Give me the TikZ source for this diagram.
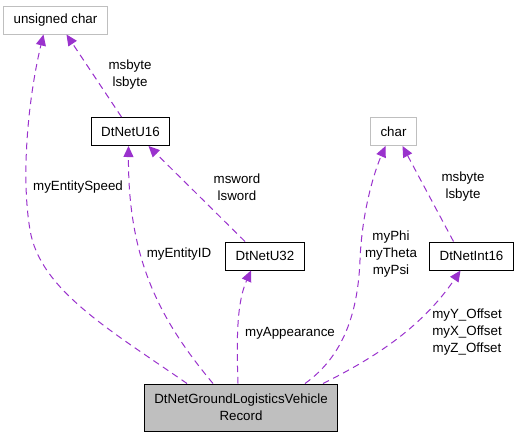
\documentclass[tikz,border=0pt]{standalone}
\usepackage{fontspec}
\setmainfont{Liberation Sans}
\usetikzlibrary{arrows.meta,calc}
\definecolor{usecol}{HTML}{9A32CD}
\definecolor{boxgray}{HTML}{BFBFBF}
\begin{document}
\begin{tikzpicture}[x=0.75pt,y=-0.75pt]
                \tikzstyle{every node}+=[inner sep=0pt, font=\fontsize{10pt}{12.75pt}\selectfont]
                \tikzstyle{cls}=[draw=black, line width=0.75pt, inner xsep=7.5pt, minimum height=21pt]
                \tikzstyle{ext}=[cls, draw=boxgray]
                \tikzstyle{use}=[draw=usecol, line width=0.75pt, dash pattern=on 5pt off 3.5pt, -{Triangle[length=8.25pt,width=7.5pt,fill=usecol]}]
                \tikzstyle{lbl}=[align=center]
                \useasboundingbox (0,0) rectangle (520,437);
                \node [ext] (uchar) at (55.5,20) {unsigned char};
                \node [cls] (u16) at (130.5,131.5) {DtNetU16};
                \node [ext] (char) at (393.5,131.5) {char};
                \node [cls] (u32) at (265,256) {DtNetU32};
                \node [cls] (int16) at (471.5,256) {DtNetInt16};
                \node [cls, fill=boxgray, minimum height=35.25pt, align=center] (main) at (241,407.5) {DtNetGroundLogisticsVehicle\\Record};
                \draw [use] ($(main.north)+(-54,0)$) .. controls (110,330) and (40,290) .. (30,230) .. controls (20,170) and (30,90) .. ($(uchar.south)+(-12,0)$);
                \node [lbl] (lspeed) at (78,187) {myEntitySpeed};
                \draw [use] ($(u16.north)+(-9,0)$) -- ($(uchar.south)+(11,0)$);
                \node [lbl] (lbyte1) at (130,75) {msbyte\\lsbyte};
                \draw [use] ($(main.north)+(-28,0)$) .. controls (160,320) and (128,260) .. ($(u16.south)+(-2,0)$);
                \node [lbl] (lid) at (179,254) {myEntityID};
                \draw [use] ($(u32.north)+(-20,0)$) -- ($(u16.south)+(18,0)$);
                \node [lbl] (lword) at (237,187) {msword\\lsword};
                \draw [use] ($(main.north)+(-3,0)$) .. controls (236,330) and (238,300) .. ($(u32.south)+(-14,0)$);
                \node [lbl] (lapp) at (290,333) {myAppearance};
                \draw [use] ($(main.north)+(64,0)$) .. controls (345,355) and (358,310) .. (360,260) .. controls (362,210) and (375,170) .. ($(char.south)+(-8,0)$);
                \node [lbl] (langle) at (391,254) {myPhi\\myTheta\\myPsi};
                \draw [use] ($(int16.north)+(-18,0)$) -- ($(char.south)+(9,0)$);
                \node [lbl] (lbyte2) at (463,187) {msbyte\\lsbyte};
                \draw [use] ($(main.north)+(82,0)$) .. controls (370,360) and (420,330) .. ($(int16.south)+(-11,0)$);
                \node [lbl] (loff) at (467,332) {myY\_Offset\\myX\_Offset\\myZ\_Offset};
\end{tikzpicture}
\end{document}
